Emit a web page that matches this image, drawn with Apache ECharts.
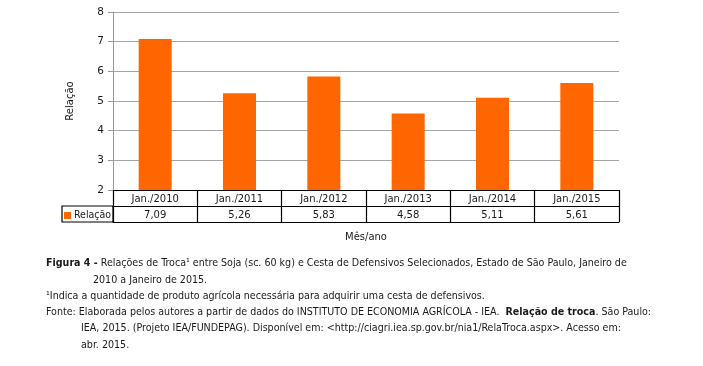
<!DOCTYPE html>
<html><head><meta charset="utf-8">
<script src="https://cdn.jsdelivr.net/npm/echarts@6/dist/echarts.min.js"></script>
<style>html,body{margin:0;padding:0;background:#fff}#c{width:703px;height:366px}</style>
</head><body><div id="c"></div>
<script>
const categories = ['Jan./2010','Jan./2011','Jan./2012','Jan./2013','Jan./2014','Jan./2015'];
const relacao = [7.09, 5.26, 5.83, 4.58, 5.11, 5.61];
const yTicks = {min: 2, max: 8, interval: 1};
const seriesName = 'Relação';
const captionLines = [
  '{b|Figura 4 -} Relações de Troca¹ entre Soja (sc. 60 kg) e Cesta de Defensivos Selecionados, Estado de São Paulo, Janeiro de',
  '2010 a Janeiro de 2015.',
  '¹Indica a quantidade de produto agrícola necessária para adquirir uma cesta de defensivos.',
  'Fonte: Elaborada pelos autores a partir de dados do INSTITUTO DE ECONOMIA AGRÍCOLA - IEA.  {b|Relação de troca}. São Paulo:',
  'IEA, 2015. (Projeto IEA/FUNDEPAG). Disponível em: <http://ciagri.iea.sp.gov.br/nia1/RelaTroca.aspx>. Acesso em:',
  'abr. 2015.'
];
const captionX = [46, 93, 46, 46, 81, 81];

const FONT = 'DejaVu Sans';
const CFONT = 'DejaVu Sans Condensed';
const fmt = v => v.toFixed(2).replace('.', ',');
const GL = 113, GR = 619, GT = 12, GB = 190;
const chart = echarts.init(document.getElementById('c'));

const graphics = [
  {type:'rect', shape:{x:62, y:206, width:GL-62, height:16}, style:{fill:'none', stroke:'#000', lineWidth:1.2}}
];
captionLines.forEach((t, i) => {
  graphics.push({type:'text', x: captionX[i], y: 258 + i*16.3, style:{
    text: t, fill:'#1a1a1a', font: '10.6px "' + CFONT + '"',
    rich: {b:{fontWeight:'bold', fontSize:10.6, fontFamily:CFONT, fill:'#1a1a1a'}}
  }});
});

chart.setOption({
  animation:false,
  grid:{left:GL, right:703-GR, top:GT, bottom:366-GB},
  legend:{left:64, top:210, padding:0, itemGap:4, itemWidth:7, itemHeight:7, icon:'rect', data:[seriesName],
    textStyle:{fontFamily:CFONT, fontSize:10.5, color:'#1a1a1a', padding:[0,0,0,-2]}},
  xAxis:[
    {type:'category', data:categories, position:'bottom',
     axisLine:{lineStyle:{color:'#000', width:1.2}},
     axisTick:{show:true, length:32, lineStyle:{color:'#000', width:1.2}},
     axisLabel:{fontFamily:FONT, fontSize:10, color:'#1a1a1a', margin:4},
     name:'Mês/ano', nameLocation:'middle', nameGap:42,
     nameTextStyle:{fontFamily:FONT, fontSize:10, color:'#1a1a1a'}},
    {type:'category', data:categories, position:'bottom', offset:16,
     axisLine:{lineStyle:{color:'#000', width:1.2}}, axisTick:{show:false},
     axisLabel:{fontFamily:FONT, fontSize:10, color:'#1a1a1a', margin:4,
       formatter:(v, i) => fmt(relacao[i])}},
    {type:'category', data:categories, position:'bottom', offset:32,
     axisLine:{lineStyle:{color:'#000', width:1.2}}, axisTick:{show:false}, axisLabel:{show:false}}
  ],
  yAxis:{type:'value', min:yTicks.min, max:yTicks.max, interval:yTicks.interval,
    axisLine:{show:true, lineStyle:{color:'#999'}},
    axisTick:{show:true, length:5, lineStyle:{color:'#999'}},
    splitLine:{lineStyle:{color:'#a6a6a6'}},
    axisLabel:{fontFamily:FONT, fontSize:10.5, color:'#1a1a1a', margin:9},
    name:'Relação', nameLocation:'middle', nameGap:38,
    nameTextStyle:{fontFamily:FONT, fontSize:10, color:'#1a1a1a'}},
  series:[{name:seriesName, type:'bar', data:relacao, barWidth:33, itemStyle:{color:'#FF6600'}}],
  graphic: graphics
});
</script></body></html>
